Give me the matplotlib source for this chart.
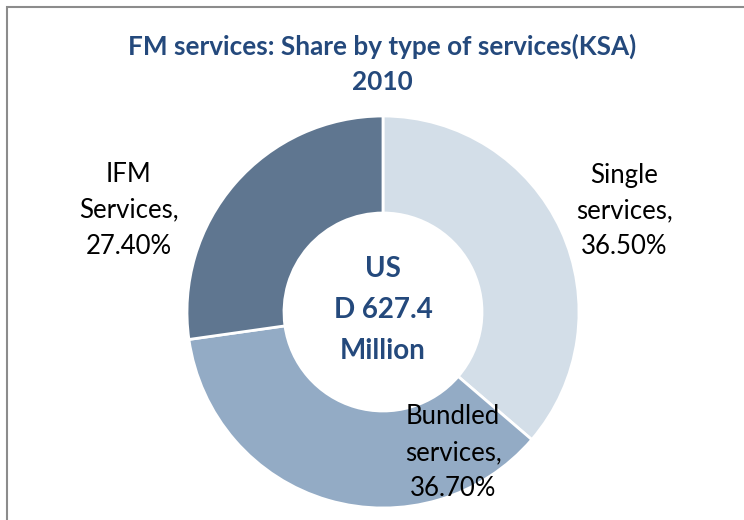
import matplotlib
matplotlib.use("Agg")
import matplotlib.pyplot as plt
from matplotlib.patches import Rectangle

# Data
categories = ["Single\nservices,", "Bundled\nservices,", "IFM\nServices,"]
shares = [36.5, 36.7, 27.4]
colors = ["#D3DEE8", "#93ABC5", "#5F7690"]
title_text = "FM services: Share by type of services(KSA)\n2010"
center_text = "US\nD 627.4\nMillion"

plt.rcParams["font.family"] = ["Lato", "DejaVu Sans"]

W, H = 744, 520
fig = plt.figure(figsize=(W / 100, H / 100), dpi=100)
ax = fig.add_axes([0, 0, 1, 1])


def py(y):
    """Convert a top-down pixel row into the axes' bottom-up coordinate."""
    return H - y


# Chart frame
ax.add_patch(Rectangle((7, -10), W, py(7) + 10, fill=False,
                       edgecolor="#8C8C8C", linewidth=1.5))

cx, cy, r_out, r_in = 383, 312, 196, 99
ax.pie(
    shares, colors=colors, startangle=90, counterclock=False,
    center=(cx, py(cy)), radius=r_out,
    wedgeprops=dict(width=r_out - r_in, edgecolor="white", linewidth=2),
    frame=True,
)
ax.set_xlim(0, W)
ax.set_ylim(0, H)
ax.set_aspect("equal")
ax.axis("off")

title_color = "#24497C"
ax.text(382, py(64), title_text, ha="center", va="center", fontsize=18.8,
        fontweight="bold", color=title_color, linespacing=1.58)
ax.text(cx, py(310), center_text, ha="center", va="center", fontsize=20,
        fontweight="bold", color=title_color, linespacing=1.7)

label_pos = [(624, 211), (453, 453), (129, 210)]
for cat, val, (lx, ly) in zip(categories, shares, label_pos):
    ax.text(lx, py(ly), f"{cat}\n{val:.2f}%", ha="center", va="center",
            fontsize=18.5, color="black", linespacing=1.55)

fig.savefig("out.png", dpi=100)
